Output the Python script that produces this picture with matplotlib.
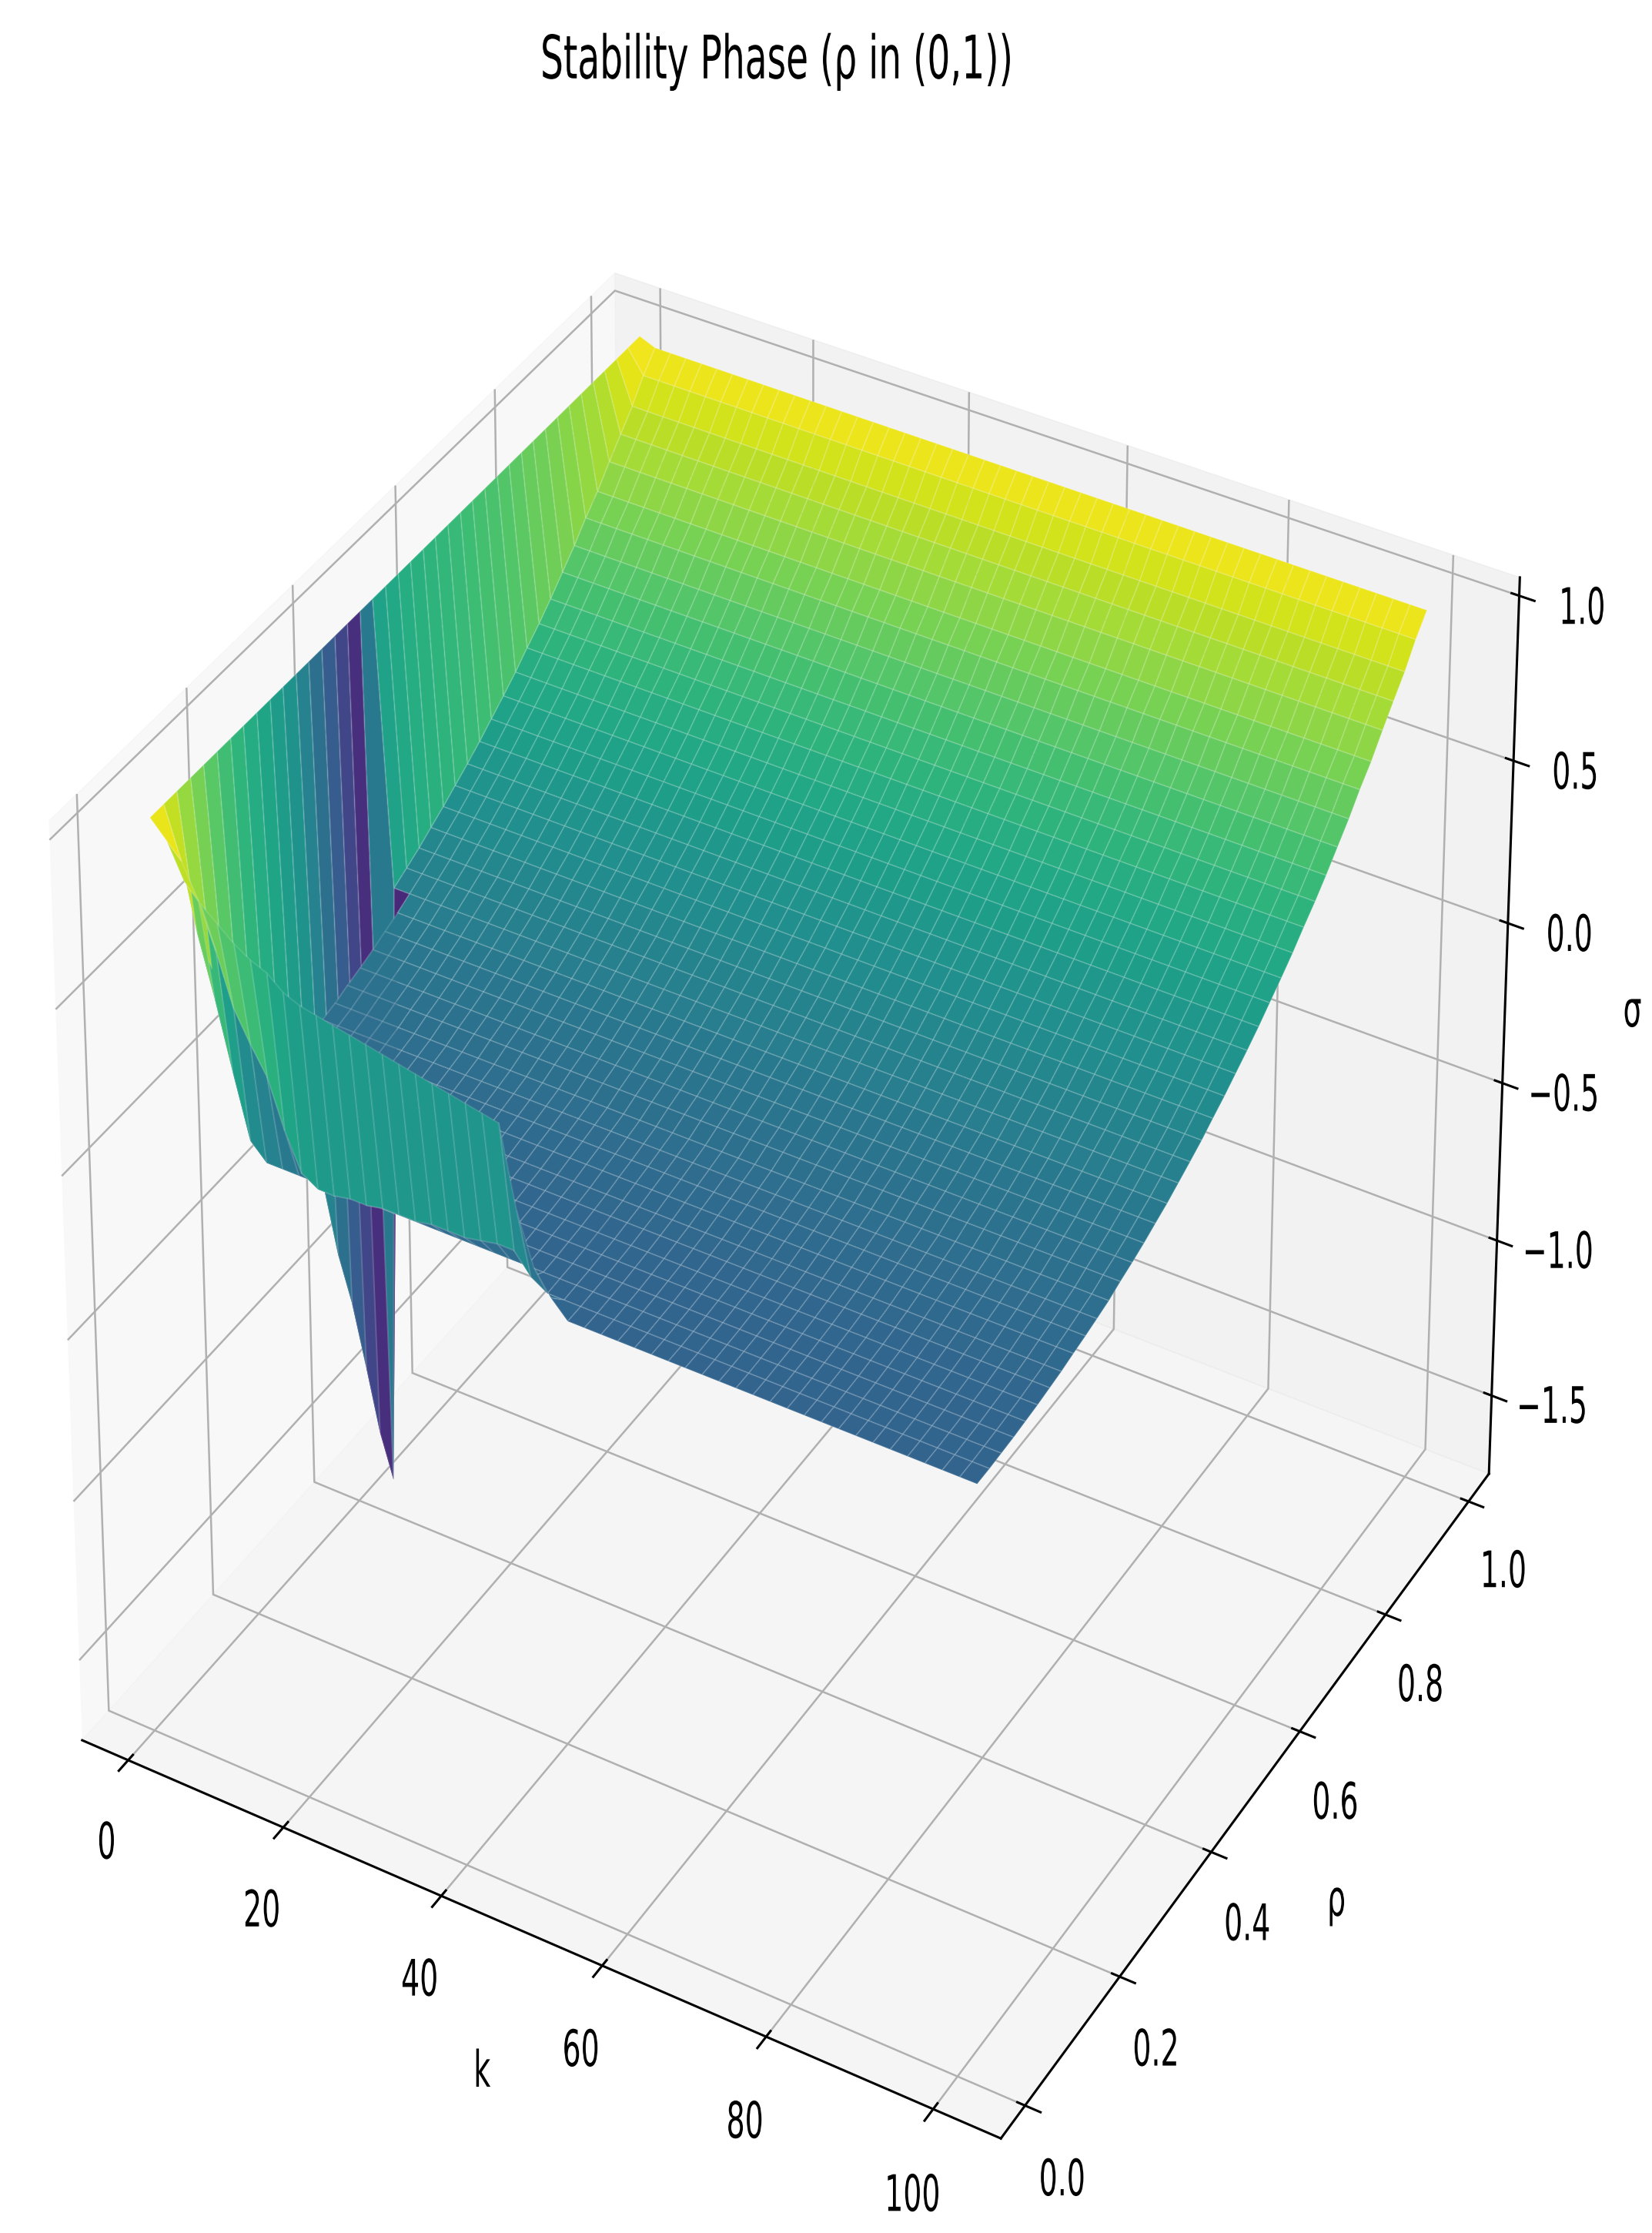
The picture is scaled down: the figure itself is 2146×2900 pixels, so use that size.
import numpy as np
import matplotlib
matplotlib.use('Agg')
import matplotlib.pyplot as plt
from matplotlib.colors import Normalize
from matplotlib.patheffects import AbstractPathEffect
from matplotlib.transforms import Affine2D

plt.rcParams['grid.linewidth'] = 1.8
plt.rcParams['axes.linewidth'] = 2.2
plt.rcParams['xtick.major.width'] = 2.2
plt.rcParams['ytick.major.width'] = 2.2
plt.rcParams['xtick.major.size'] = 7
plt.rcParams['ytick.major.size'] = 7

k_vals = [1.0, 3.02, 5.04, 7.06, 9.08, 11.1, 13.12, 15.14, 17.16, 19.18,
          21.2, 23.22, 25.24, 27.27, 29.29, 31.31, 33.33, 35.35, 37.37, 39.39,
          41.41, 43.43, 45.45, 47.47, 49.49, 51.51, 53.53, 55.55, 57.57, 59.59,
          61.61, 63.63, 65.65, 67.67, 69.69, 71.71, 73.73, 75.76, 77.78, 79.8,
          81.82, 83.84, 85.86, 87.88, 89.9, 91.92, 93.94, 95.96, 97.98, 100.0]
rho_vals = [0.03, 0.055, 0.079, 0.104, 0.128, 0.153, 0.178, 0.202, 0.227, 0.252,
            0.276, 0.301, 0.325, 0.35, 0.375, 0.399, 0.424, 0.448, 0.473, 0.498,
            0.522, 0.547, 0.571, 0.596, 0.621, 0.645, 0.67, 0.695, 0.719, 0.744,
            0.768, 0.793, 0.818, 0.842, 0.867, 0.892, 0.916, 0.941, 0.965, 0.99]

# sigma against rho, read along the k=100 edge
sigma_far = [-0.02, -0.02, -0.018, -0.016, -0.012, -0.008, -0.002, 0.004, 0.013, 0.021,
             0.03, 0.04, 0.055, 0.068, 0.083, 0.10, 0.117, 0.137, 0.158, 0.18,
             0.205, 0.23, 0.257, 0.285, 0.315, 0.347, 0.38, 0.415, 0.453, 0.49,
             0.53, 0.575, 0.62, 0.67, 0.715, 0.77, 0.82, 0.87, 0.93, 0.98]
# second k column up to the spike at rho about 0.42, sigma_far after it
sigma_k2_low = [0.95, 0.85, 0.60, 0.45, 0.30, 0.15, 0.0, -0.10, -0.20, -0.30,
                -0.40, -0.55, -0.80, -1.00, -1.25, -1.50, -1.70]
# low rho rows, from the third k column on
sigma_rho0 = [0.85, 0.80, 0.76, 0.72, 0.69, 0.67, 0.63, 0.61, 0.60, 0.59,
              0.58, 0.57, 0.56, 0.55, 0.54, 0.53, 0.52, 0.51, 0.50, 0.49,
              0.25, 0.10, 0.03]
sigma_rho1 = [0.75, 0.62, 0.47, 0.38, 0.30, 0.16, 0.05, 0.02, 0.02, 0.03,
              0.03, 0.04, 0.04, 0.04, 0.05, 0.05, 0.05, 0.06, 0.07, 0.07,
              0.01]
sigma_rho2 = [0.42, 0.22, 0.03]
sigma_rho3 = [0.22, 0.06, 0.0]
sigma_rho4 = [0.08, 0.0]
# colour level of the spike's faces, rho cells 11 to 15
spike_level = [0.04, -0.06, -0.18, -0.26, -0.34]
# colour level of the back wall (first k cell), rho cells 17 to 38
wall_level = [0.365, 0.40, 0.43, 0.45, 0.47, 0.49, 0.51, 0.53, 0.55, 0.57, 0.595,
              0.62, 0.65, 0.67, 0.70, 0.725, 0.755, 0.79, 0.83, 0.88, 0.94, 0.97]

x_ticks = [0, 20, 40, 60, 80, 100]
y_ticks = [0.0, 0.2, 0.4, 0.6, 0.8, 1.0]
z_ticks = [-1.5, -1.0, -0.5, 0.0, 0.5, 1.0]


class Squeeze(AbstractPathEffect):
    # the reference text is narrow, as if the image had been stretched
    def __init__(self, factor):
        super().__init__()
        self.factor = factor

    def draw_path(self, renderer, gc, tpath, affine, rgbFace=None):
        cx = tpath.get_extents().x0 / 2 + tpath.get_extents().x1 / 2
        squeeze = Affine2D().translate(-cx, 0).scale(self.factor, 1).translate(cx, 0)
        renderer.draw_path(gc, tpath, squeeze + affine, rgbFace)


fig = plt.figure(figsize=(21.46, 29.0), dpi=100)
ax = fig.add_axes([-0.025, -0.019, 0.99, 0.972], projection='3d')
ax.apply_aspect = lambda position=None: None

K, R = np.meshgrid(k_vals, rho_vals)
Z = np.tile(np.array(sigma_far)[:, None], (1, len(k_vals)))
Z[:, 0] = 1.0
Z[:len(sigma_k2_low), 1] = sigma_k2_low
for i, row in enumerate([sigma_rho0, sigma_rho1, sigma_rho2, sigma_rho3, sigma_rho4]):
    Z[i, 2:2 + len(row)] = row

# face colour is the mean of the four corners, as plot_surface does it
level = (Z[:-1, :-1] + Z[1:, :-1] + Z[:-1, 1:] + Z[1:, 1:]) / 4
level[11:16, 1] = spike_level
level[17:39, 0] = wall_level
colors = plt.cm.viridis(Normalize(-0.5, 1.0)(level))

surf = ax.plot_surface(K, R, Z, facecolors=colors, shade=False, linewidth=0,
                       rstride=1, cstride=1)
surf.set_edgecolor((1, 1, 1, 0.12))
surf.set_linewidth(1.4)

ax.set_xlim(-6, 108)
ax.set_ylim(-0.05, 1.05)
ax.set_zlim(-1.755, 1.055)
ax.set_xticks(x_ticks)
ax.set_yticks(y_ticks)
ax.set_zticks(z_ticks)
ax.tick_params(labelsize=47)
ax.tick_params(axis='x', pad=28)
ax.tick_params(axis='y', pad=28)
ax.tick_params(axis='z', pad=33)

squeeze = [Squeeze(0.58)]
for axis in (ax.xaxis, ax.yaxis, ax.zaxis):
    for tick in axis.get_major_ticks():
        tick.label1.set_path_effects(squeeze)

ax.set_xlabel('k', fontsize=47, labelpad=60, path_effects=squeeze)
ax.set_ylabel('ρ', fontsize=47, labelpad=60, path_effects=squeeze)
ax.set_zlabel('σ', fontsize=47, labelpad=65, path_effects=squeeze)
fig.text(0.47, 0.9725, 'Stability Phase (ρ in (0,1))', fontsize=56,
         ha='center', va='center', path_effects=[Squeeze(0.605)])
fig.savefig('out.png')
